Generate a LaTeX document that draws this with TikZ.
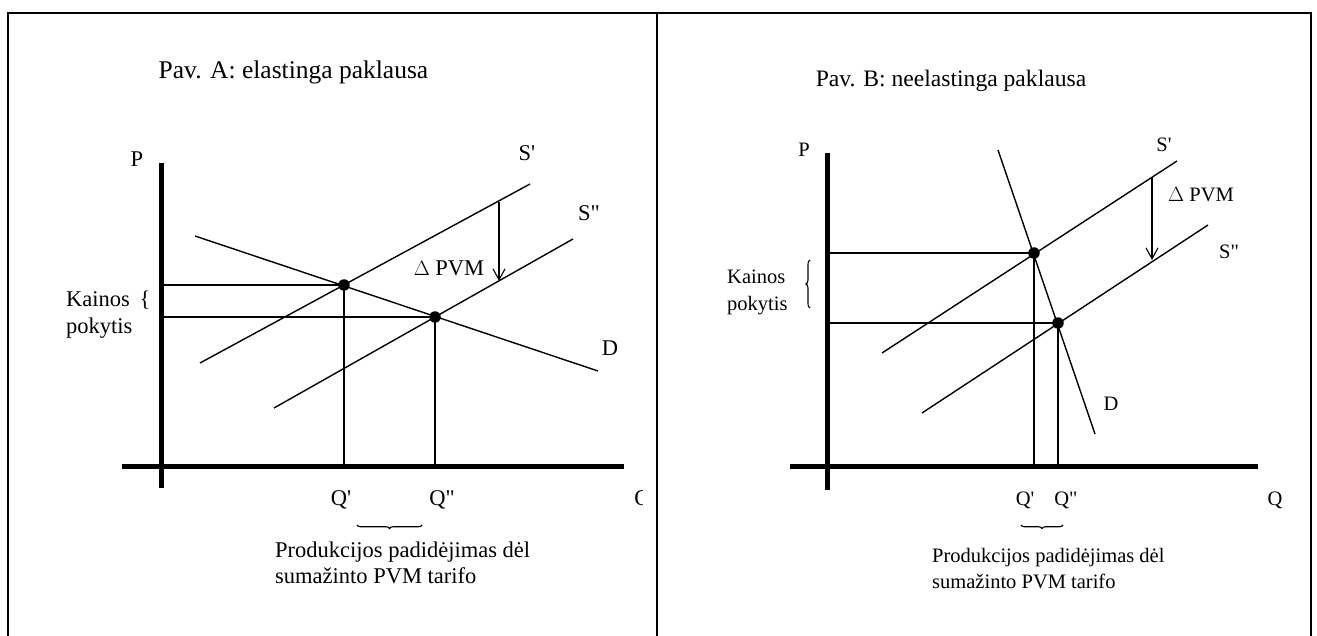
\documentclass[tikz,border=0pt]{standalone}
\usepackage{fontspec}
\setmainfont{Liberation Serif}[Ligatures=TeXOff]
\usetikzlibrary{arrows.meta,decorations.pathreplacing}
\begin{document}
\begin{tikzpicture}[x=1pt,y=-1pt,
  frameline/.style={line width=2pt},
  curve/.style={line width=1.4pt},
  guide/.style={line width=1.4pt},
  axisline/.style={line width=5pt},
  pvmarrow/.style={line width=1.4pt,-{Straight Barb[length=11pt,width=12pt,line width=1.1pt]}},
  dot/.style={circle,fill=black,inner sep=0pt,minimum size=11.5pt},
  lblA/.style={font=\fontsize{22.5}{26}\selectfont,inner sep=0pt},
  lblB/.style={font=\fontsize{20.5}{24}\selectfont,inner sep=0pt},
  titA/.style={font=\fontsize{25.5}{30}\selectfont,inner sep=0pt},
  titB/.style={font=\fontsize{23.6}{28}\selectfont,inner sep=0pt},
  bracedown/.style={decorate,line width=1.1pt,decoration={brace,amplitude=3.5pt}},
  braceleft/.style={decorate,line width=1.1pt,decoration={brace,amplitude=4pt}}]
\useasboundingbox (0,0) rectangle (1317,636);
% frame
\coordinate (fBL) at (8,660);
\coordinate (fTL) at (8,13);
\coordinate (fTR) at (1311,13);
\coordinate (fBR) at (1311,660);
\coordinate (fTM) at (657,13);
\coordinate (fBM) at (657,660);
\draw[frameline] (fBL) -- (fTL) -- (fTR) -- (fBR);
\draw[frameline] (fTM) -- (fBM);

% ================= Panel A =================
\node[titA,anchor=base] (titleA) at (293.5,79) {Pav. A: elastinga paklausa};
\coordinate (pAtop) at (161,163);
\coordinate (pAbot) at (161,488);
\coordinate (qAleft) at (122,466);
\coordinate (qAright) at (624,466);
\draw[axisline] (pAtop) -- (pAbot);
\draw[axisline] (qAleft) -- (qAright);

\coordinate (s1Alo) at (200,363);
\coordinate (s1Ahi) at (530,184);
\coordinate (s2Alo) at (274,408);
\coordinate (s2Ahi) at (573,239);
\coordinate (dAhi) at (195,236);
\coordinate (dAlo) at (598,371);
\draw[curve] (s1Alo) -- (s1Ahi);
\draw[curve] (s2Alo) -- (s2Ahi);
\draw[curve] (dAhi) -- (dAlo);

\coordinate (eA1) at (344,285);
\coordinate (eA2) at (435,317);
\coordinate (pA1) at (161,285);
\coordinate (pA2) at (161,317);
\coordinate (qA1) at (344,466);
\coordinate (qA2) at (435,466);
\draw[guide] (pA1) -- (eA1) -- (qA1);
\draw[guide] (pA2) -- (eA2) -- (qA2);
\node[dot] (dotA1) at (eA1) {};
\node[dot] (dotA2) at (eA2) {};

\coordinate (arAtop) at (499,202);
\coordinate (arAbot) at (499,281);
\draw[pvmarrow] (arAtop) -- (arAbot);

\node[lblA,anchor=base] (PA) at (137,167) {P};
\node[lblA,anchor=base] (S1A) at (527,161) {S'};
\node[lblA,anchor=base] (S2A) at (589,221) {S"};
\node[lblA,anchor=base] (DA) at (610,355) {D};
\node[lblA,anchor=base] (dpvmA) at (449,276) {$\Delta$ PVM};
\node[lblA,anchor=base] (Q1A) at (341,505) {Q'};
\node[lblA,anchor=base] (Q2A) at (442,505) {Q"};
\begin{scope}
  \clip (600,470) rectangle (642,520);
  \node[lblA,anchor=base] (QA) at (642.5,505) {Q};
\end{scope}
\node[lblA,anchor=base west] (kainosA) at (66,307) {Kainos};
\node[lblA,anchor=base] (brA) at (145,307) {\{};
\node[lblA,anchor=base west] (pokytisA) at (66,333) {pokytis};

\coordinate (brAr) at (422,525);
\coordinate (brAl) at (357,525);
\draw[bracedown] (brAr) -- (brAl);
\node[lblA,anchor=base west] (txtA1) at (275,557) {Produkcijos padidėjimas dėl};
\node[lblA,anchor=base west] (txtA2) at (275,583) {sumažinto PVM tarifo};

% ================= Panel B =================
\node[titB,anchor=base] (titleB) at (951,87) {Pav. B: neelastinga paklausa};
\coordinate (pBtop) at (827,153);
\coordinate (pBbot) at (827,490);
\coordinate (qBleft) at (790,466);
\coordinate (qBright) at (1258,466);
\draw[axisline] (pBtop) -- (pBbot);
\draw[axisline] (qBleft) -- (qBright);

\coordinate (s1Blo) at (882,353);
\coordinate (s1Bhi) at (1177,161);
\coordinate (s2Blo) at (922,413);
\coordinate (s2Bhi) at (1208,225);
\coordinate (dBhi) at (998,150);
\coordinate (dBlo) at (1095,434);
\draw[curve] (s1Blo) -- (s1Bhi);
\draw[curve] (s2Blo) -- (s2Bhi);
\draw[curve] (dBhi) -- (dBlo);

\coordinate (eB1) at (1034,253);
\coordinate (eB2) at (1058,323);
\coordinate (pB1) at (827,253);
\coordinate (pB2) at (827,323);
\coordinate (qB1) at (1034,466);
\coordinate (qB2) at (1058,466);
\draw[guide] (pB1) -- (eB1) -- (qB1);
\draw[guide] (pB2) -- (eB2) -- (qB2);
\node[dot] (dotB1) at (eB1) {};
\node[dot] (dotB2) at (eB2) {};

\coordinate (arBtop) at (1152,177);
\coordinate (arBbot) at (1152,260);
\draw[pvmarrow] (arBtop) -- (arBbot);

\node[lblB,anchor=base] (PB) at (804,157) {P};
\node[lblB,anchor=base] (S1B) at (1164,152) {S'};
\node[lblB,anchor=base] (S2B) at (1229,259) {S"};
\node[lblB,anchor=base] (DB) at (1111,410) {D};
\node[lblB,anchor=base] (dpvmB) at (1201,202) {$\Delta$ PVM};
\node[lblB,anchor=base] (Q1B) at (1025,505) {Q'};
\node[lblB,anchor=base] (Q2B) at (1066,505) {Q"};
\node[lblB,anchor=base] (QB) at (1275,505) {Q};
\node[lblB,anchor=base west] (kainosB) at (727,284) {Kainos};
\node[lblB,anchor=base west] (pokytisB) at (727,311) {pokytis};
\coordinate (brBlo) at (810,308);
\coordinate (brBhi) at (810,260);
\draw[braceleft] (brBlo) -- (brBhi);

\coordinate (brBr) at (1063,525);
\coordinate (brBl) at (1021,525);
\draw[bracedown] (brBr) -- (brBl);
\node[lblB,anchor=base west] (txtB1) at (932,562) {Produkcijos padidėjimas dėl};
\node[lblB,anchor=base west] (txtB2) at (932,588) {sumažinto PVM tarifo};
\end{tikzpicture}
\end{document}
